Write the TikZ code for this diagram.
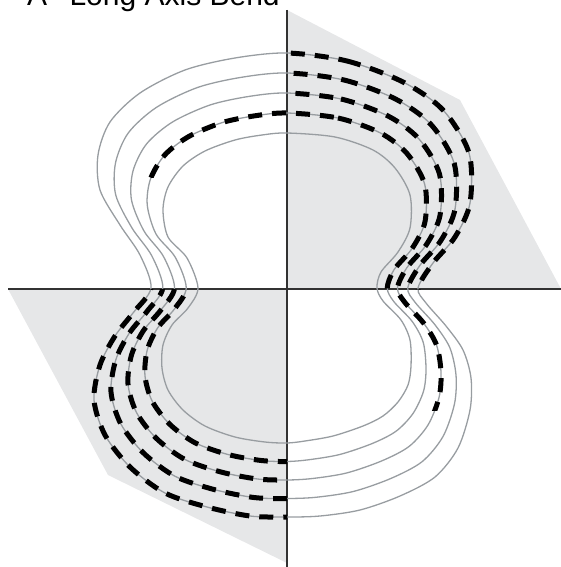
\documentclass[tikz,border=0pt]{standalone}
\usepackage{fontspec}
\setmainfont{Liberation Sans}
\usetikzlibrary{calc}
\definecolor{shadegray}{RGB}{230,231,232}
\definecolor{contourgray}{RGB}{152,157,161}
\definecolor{axisgray}{RGB}{50,50,50}
% contour between outer (t=0) and inner (t=1)
\newcommand\setlevel[1]{\foreach \n in {1,...,38}{\coordinate (c\n) at ($(o\n)!#1!(i\n)$);}}

\begin{document}
\begin{tikzpicture}[x=1pt,y=-1pt,
  contour/.style={draw=contourgray,line width=1.3pt},
  bendline/.style={draw=black,line width=5pt,dash pattern=on 14pt off 10pt},
  axisline/.style={draw=axisgray,line width=1.4pt},
  ring/.style={smooth cycle,samples at={1,...,38},variable=\n}]
\useasboundingbox (0,0) rectangle (561,567);
% outer (o) and inner (i) contour, matched point by point
\foreach \n/\ox/\oy/\ix/\iy in {
  1/287/53/287/133, 2/347/61/335/137, 3/403/82/373/150, 4/443/110/395/168,
  5/469/153/410/195, 6/470/203/410/228, 7/455/237/398/252, 8/433/263/381/272,
  9/418/288/377/288, 10/426/303/383/301, 11/446/326/401/320, 12/463/350/410/340,
  13/471/378/411/366, 14/470/410/408/385, 15/458/448/398/402, 16/435/477/383/416,
  17/400/496/363/426, 18/360/510/333/436, 19/320/516/305/441, 20/287/517/287/443,
  21/250/516/265/442, 22/207/507/235/437, 23/165/493/205/426, 24/130/467/183/410,
  25/105/435/168/390, 26/94/400/162/368, 27/100/365/163/345, 28/115/336/172/325,
  29/133/313/188/308, 30/151/288/198/288, 31/140/255/187/258, 32/120/225/168/237,
  33/100/190/163/210, 34/98/155/168/187, 35/110/122/183/166, 36/140/93/205/151,
  37/185/70/235/140, 38/235/58/262/135}{
  \coordinate (o\n) at (\ox,\oy);
  \coordinate (i\n) at (\ix,\iy);
}
\node (title) [anchor=base west,inner sep=0pt,font=\fontsize{30}{32}\selectfont] at (27,6) {A\hspace{14pt} Long Axis Bend};

% shaded quadrants
\fill[shadegray] (287,10) -- (460,100) -- (561,289) -- (287,289) -- cycle;
\fill[shadegray] (287,289) -- (8,289) -- (108,475) -- (287,563) -- cycle;

% axes
\draw[axisline] (8,289) -- (561,289);
\draw[axisline] (287,10) -- (287,567);

% five contours
\foreach \t in {0,0.25,0.5,0.75,1}{
  \setlevel{\t}
  \draw[contour] plot[ring] (c\n);
}

% bent parts
\begin{scope}
  \clip (287,0) rectangle (561,289);
  \foreach \t in {0,0.25,0.5,0.75}{
    \setlevel{\t}
    \draw[bendline] plot[ring] (c\n);
  }
\end{scope}
\begin{scope}
  \clip (0,289) rectangle (287,567);
  \foreach \t in {0,0.25,0.5,0.75}{
    \setlevel{\t}
    \draw[bendline] plot[ring] (c\n);
  }
\end{scope}
\begin{scope}
  \clip (140,0) rectangle (287,177);
  \setlevel{0.75}
  \draw[bendline] plot[ring] (c\n);
\end{scope}
\begin{scope}
  \clip (287,289) rectangle (561,410);
  \setlevel{0.5}
  \draw[bendline] plot[ring] (c\n);
\end{scope}
\end{tikzpicture}
\end{document}
